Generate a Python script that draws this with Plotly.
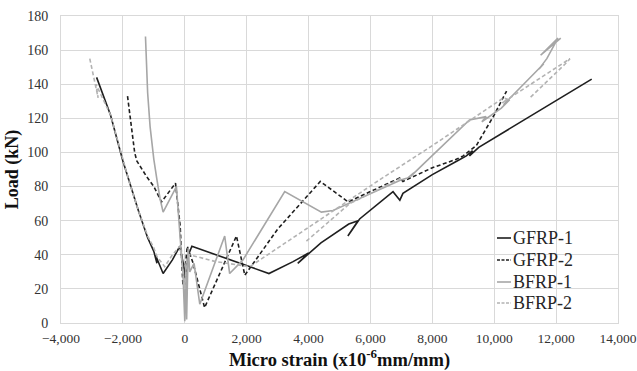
import plotly.graph_objects as go

# ---------------- data ----------------
gfrp1_x = [-2850, -2400, -2000, -1800, -1500, -1200, -1000, -900, -950, -700, -400, -160, -50, 30, 120, 230,
           1500, 2720, 3500, 4000, 3650, 4400, 5300, 5600, 5270, 5650, 6730, 6950, 7050, 8000, 8800, 9100,
           9300, 9200, 9500, 13150]
gfrp1_y = [144, 122, 95, 83, 66, 50, 42, 35, 40, 29, 37, 45, 35, 25, 40, 45,
           37, 29, 36, 41, 35, 47, 58, 60, 51, 61, 77, 72, 76, 87, 95, 98,
           101, 98, 103, 143]

gfrp2_x = [-1850, -1750, -1680, -1620, -1550, -1240, -1000, -750, -300, -150, -60, 0, 80, 270, 640,
           1670, 1940, 3000, 4380, 5280, 6945, 7050, 8000, 8775, 9000, 9200, 9100, 9420, 10000, 10400]
gfrp2_y = [133, 118, 108, 100, 95, 86, 80, 71, 82, 57, 22, 30, 45, 35, 9,
           51, 28, 55, 83, 71, 85, 83, 91, 96, 98, 101, 99, 104, 122, 136]

bfrp1_x = [-1270, -1255, -1200, -1120, -1000, -900, -800, -700, -270, -150, -60, 0, 30, 60, 110, 160, 300,
           485, 1290, 1450, 1880, 3230, 4415, 4790, 5650, 7000, 7200, 7400, 7300, 7700, 9200, 9740,
           9600, 10230, 10500, 10300, 11360, 11600, 11450, 11700, 12060, 11500, 12150]
bfrp1_y = [168, 158, 135, 115, 96, 84, 73, 65, 80, 50, 30, 1, 35, 2, 44, 30, 35,
           11, 51, 29, 37, 77, 65, 66, 73, 84, 85, 88, 86, 93, 119, 121,
           118, 126, 131, 128, 148, 152, 149, 155, 167, 157, 167]

bfrp2_x = [-3070, -2800, -2870, -2400, -2000, -1800, -1500, -1200, -1000, -900, -650, -400, -150, -50, 0,
           60, 150, 1000, 2100, 6300, 8000, 10300, 10450, 10250, 12450, 12300, 11150, None, 3930, 5330, 7000]
bfrp2_y = [155, 132, 140, 122, 95, 83, 66, 51, 44, 39, 33, 40, 45, 30, 20,
           38, 40, 36, 33, 84, 104, 132, 131, 129, 155, 152, 132, None, 48, 70, 85]

series_names = ["GFRP-1", "GFRP-2", "BFRP-1", "BFRP-2"]
x_ticks = [-4000, -2000, 0, 2000, 4000, 6000, 8000, 10000, 12000, 14000]
y_ticks = [0, 20, 40, 60, 80, 100, 120, 140, 160, 180]

# ---------------- figure ----------------
FONT = "Liberation Serif"
styles = [
    dict(color="#1f1f1f", width=1.6, dash="solid"),
    dict(color="#1f1f1f", width=1.6, dash="4px,2.5px"),
    dict(color="#a6a6a6", width=1.6, dash="solid"),
    dict(color="#b3b3b3", width=1.6, dash="4px,2.5px"),
]
data = [(gfrp1_x, gfrp1_y), (gfrp2_x, gfrp2_y), (bfrp1_x, bfrp1_y), (bfrp2_x, bfrp2_y)]

fig = go.Figure()
for name, (xs, ys), st in zip(series_names, data, styles):
    fig.add_trace(go.Scatter(x=xs, y=ys, mode="lines", name=name, line=st,
                             connectgaps=False, showlegend=False))

# compact legend (short line keys, tight rows) drawn in paper coordinates
PL, PW, PT, PH = 61, 557, 16, 307
def px_to_paper(px, py):
    return (px - PL) / PW, 1 - (py - PT) / PH

row_y = [238, 260, 282, 303]
for name, st, ry in zip(series_names, styles, row_y):
    x0, yy = px_to_paper(497, ry)
    x1, _ = px_to_paper(511, ry)
    fig.add_shape(type="line", xref="paper", yref="paper", x0=x0, x1=x1, y0=yy, y1=yy,
                  line=dict(color=st["color"], width=1.6,
                            dash="3px,1.5px" if st["dash"] != "solid" else "solid"))
    tx, _ = px_to_paper(511, ry)
    fig.add_annotation(xref="paper", yref="paper", x=tx, y=yy, text=name,
                       showarrow=False, xanchor="left", yanchor="middle",
                       font=dict(family=FONT, size=18, color="#262626"))

fig.update_layout(
    width=637, height=371,
    margin=dict(l=61, r=19, t=16, b=48, autoexpand=False),
    paper_bgcolor="white", plot_bgcolor="white",
    font=dict(family=FONT, size=14, color="#333333"),
    showlegend=False,
    xaxis=dict(range=[-4000, 14000], tickvals=x_ticks, tickformat=",d",
               showgrid=True, gridcolor="#d9d9d9", gridwidth=1,
               zeroline=False, showline=True, linecolor="#d9d9d9", mirror=True,
               ticks="outside", ticklen=3, tickcolor="rgba(0,0,0,0)",
               ticklabeloverflow="allow",
               tickfont=dict(family=FONT, size=13.5, color="#333333"),
               title=dict(text="<b>Micro strain (x10<sup>-6</sup>mm/mm)</b>",
                          font=dict(family=FONT, size=18.5, color="#111111"), standoff=9)),
    yaxis=dict(range=[0, 180], tickvals=y_ticks,
               showgrid=True, gridcolor="#d9d9d9", gridwidth=1,
               zeroline=False, showline=True, linecolor="#d9d9d9", mirror=True,
               ticks="outside", ticklen=9, tickcolor="rgba(0,0,0,0)",
               tickfont=dict(family=FONT, size=14, color="#333333"),
               title=dict(text="<b>Load (kN)</b>",
                          font=dict(family=FONT, size=18, color="#111111"), standoff=3)),
)

fig.write_html("out.html")
